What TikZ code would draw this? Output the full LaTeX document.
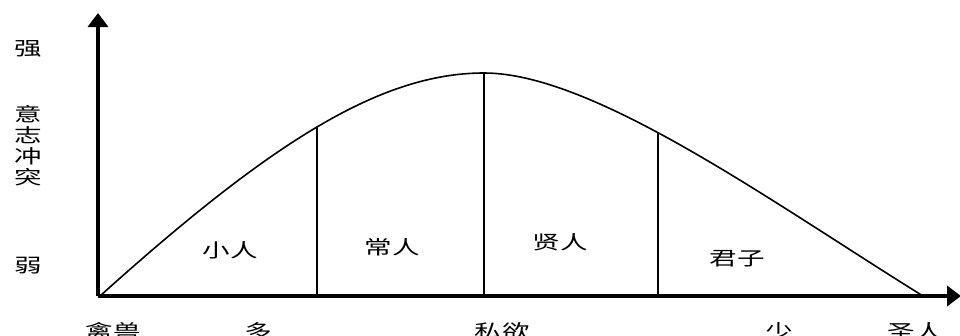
\documentclass[tikz,border=0pt]{standalone}
\usepackage{fontspec}
\newfontfamily\cjk{Noto Sans CJK SC}
\usetikzlibrary{arrows.meta,intersections}
\tikzset{
  axis/.style={line width=3.5pt,-{Triangle[width=20pt,length=14pt]}},
  curveline/.style={line width=1.6pt},
  divider/.style={line width=1.8pt},
  lbl/.style={inner sep=0pt,font=\cjk\fontsize{19}{21}\selectfont,xscale=1.45}
}
\begin{document}
\begin{tikzpicture}[x=1pt,y=-1pt]
\useasboundingbox (0,0) rectangle (960,335);
\coordinate (o) at (98,296);
\coordinate (ytip) at (98,13);
\coordinate (xtip) at (961,296);
\coordinate (c0) at (100,296);
\coordinate (peak) at (484,73);
\coordinate (cend) at (923,296);
% curve
\draw[curveline,name path=curve] (c0) .. controls (270,143) and (380,73) .. (peak)
  .. controls (594,73) and (773,203) .. (cend);
% dividers
\path[name path=v1] (317,300) -- (317,40);
\path[name path=v3] (658,300) -- (658,40);
\path[name intersections={of=curve and v1,by=t1}];
\path[name intersections={of=curve and v3,by=t3}];
\coordinate (b1) at (317,296);
\coordinate (b2) at (484,296);
\coordinate (b3) at (658,296);
\draw[divider] (b1) -- (t1);
\draw[divider] (b2) -- (peak);
\draw[divider] (b3) -- (t3);
% axes
\draw[axis] (o) -- (ytip);
\draw[axis] (o) -- (xtip);
% y labels
\node[lbl] (strong) at (28,49) {强};
\node[lbl,align=center] (conflict) at (28,146) {意\\志\\冲\\突};
\node[lbl] (weak) at (28,266) {弱};
% x labels
\node[lbl] (beast) at (113,331) {禽兽};
\node[lbl] (many) at (258,331) {多};
\node[lbl] (desire) at (502,331) {私欲};
\node[lbl] (few) at (779,331) {少};
\node[lbl] (sage) at (915,331) {圣人};
% region labels
\node[lbl] (xiaoren) at (230,250) {小人};
\node[lbl] (changren) at (392,247) {常人};
\node[lbl] (xianren) at (560,242) {贤人};
\node[lbl] (junzi) at (737,259) {君子};
\end{tikzpicture}
\end{document}
